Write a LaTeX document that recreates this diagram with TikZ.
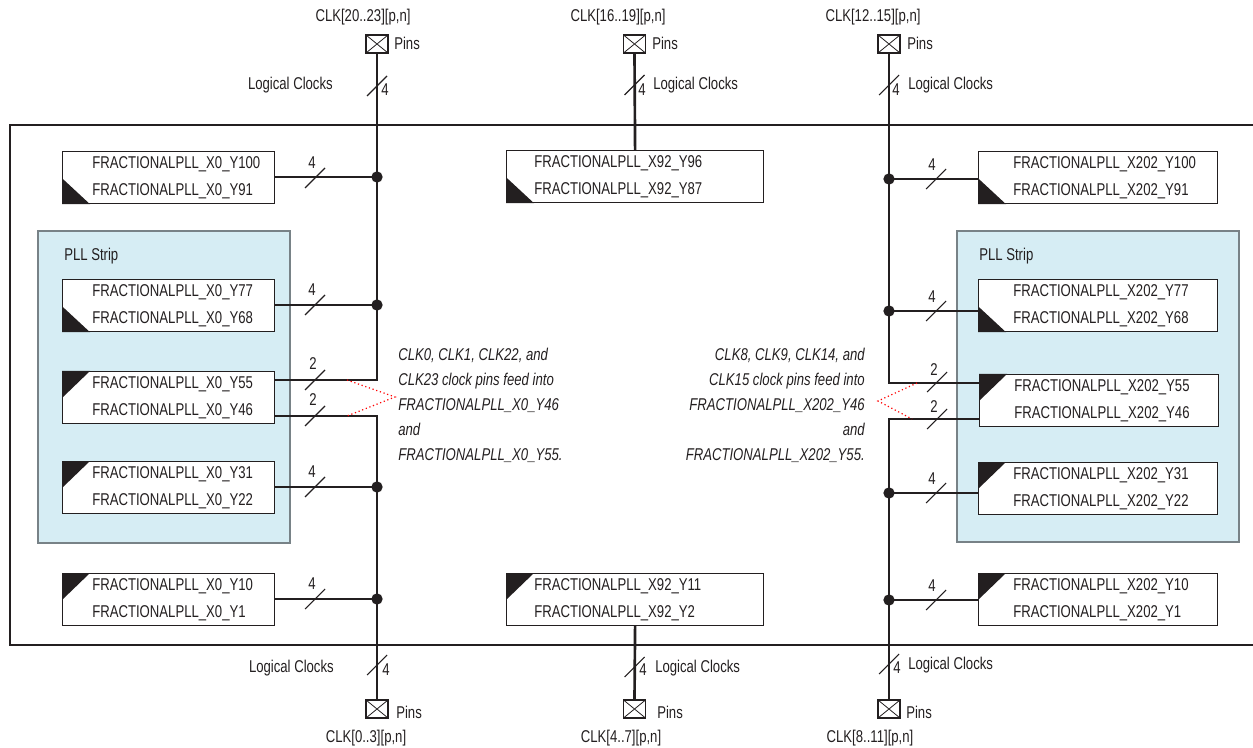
\documentclass[tikz,border=0pt]{standalone}
\usepackage{fontspec}
\setmainfont{Liberation Sans}[FakeStretch=0.77]
\definecolor{ink}{RGB}{35,31,32}
\definecolor{stripblue}{RGB}{214,237,244}
\definecolor{stripedge}{RGB}{120,130,135}
\newcommand\busslash[1]{\draw[slashst] (#1) ++(-10,10) -- ++(20,-20);}
\begin{document}
\begin{tikzpicture}[x=0.75pt,y=-0.75pt,
  txt/.style={font=\fontsize{12.8}{18.75}\selectfont, inner sep=0pt, text=ink},
  boxtxt/.style={font=\fontsize{12.8}{20.25}\selectfont, inner sep=0pt, text=ink, align=left, anchor=west},
  note/.style={font=\fontsize{12.8}{18.75}\selectfont\itshape, inner sep=0pt, text=ink},
  bus/.style={line width=2pt, draw=ink},
  frame/.style={line width=0.9pt, draw=ink},
  slashst/.style={line width=0.8pt, draw=ink},
  pllbox/.style={draw=ink, line width=0.9pt, fill=white, minimum height=39pt, inner sep=0pt, anchor=north west},
  strip/.style={draw=stripedge, fill=stripblue, line width=0.8pt},
  jdot/.style={circle, fill=ink, inner sep=0pt, minimum size=8.5pt},
  pin/.style={draw=ink, line width=0.8pt, fill=white, minimum width=16.5pt, minimum height=13.5pt, inner sep=0pt,
    path picture={\draw[ink, line width=0.6pt] (path picture bounding box.north west) -- (path picture bounding box.south east)
      (path picture bounding box.south west) -- (path picture bounding box.north east);}},
  reddot/.style={red, dotted, line width=0.9pt}
]
\useasboundingbox (0,0) rectangle (1253,748);

% outer frame
\draw[frame] (1253,125) -- (10,125) -- (10,645) -- (1253,645);

% PLL strips
\draw[strip] (38,231) rectangle (290,543);
\draw[strip] (957,231) rectangle (1239,542);
\node[txt, anchor=west] (stripL) at (64,256) {PLL Strip};
\node[txt, anchor=west] (stripR) at (979,256) {PLL Strip};

% ---------- boxes left ----------
\node[pllbox, minimum width=159pt] (bL1) at (62,151) {};
\node[pllbox, minimum width=159pt] (bL2) at (62,279) {};
\node[pllbox, minimum width=159pt] (bL3) at (62,371) {};
\node[pllbox, minimum width=159pt] (bL4) at (62,461) {};
\node[pllbox, minimum width=159pt] (bL5) at (62,573) {};
% center
\node[pllbox, minimum width=192.75pt] (bC1) at (506,150) {};
\node[pllbox, minimum width=192.75pt] (bC2) at (506,573) {};
% right
\node[pllbox, minimum width=179.25pt] (bR1) at (978,151) {};
\node[pllbox, minimum width=179.25pt] (bR2) at (978,279) {};
\node[pllbox, minimum width=179.25pt] (bR3) at (979,374) {};
\node[pllbox, minimum width=179.25pt] (bR4) at (978,462) {};
\node[pllbox, minimum width=179.25pt] (bR5) at (978,573) {};

% corner triangles
\foreach \b in {bL1,bL2,bC1,bR1,bR2}{
  \fill[ink] (\b.south west) -- ++(0,-26) -- ++(28,26) -- cycle;}
\foreach \b in {bL3,bL4,bL5,bC2,bR3,bR4,bR5}{
  \fill[ink] (\b.north west) -- ++(28,0) -- ++(-28,27) -- cycle;}

% box texts
\node[boxtxt] (tL1) at ([xshift=22.5pt]bL1.west) {FRACTIONALPLL\_X0\_Y100\\FRACTIONALPLL\_X0\_Y91};
\node[boxtxt] (tL2) at ([xshift=22.5pt]bL2.west) {FRACTIONALPLL\_X0\_Y77\\FRACTIONALPLL\_X0\_Y68};
\node[boxtxt] (tL3) at ([xshift=22.5pt]bL3.west) {FRACTIONALPLL\_X0\_Y55\\FRACTIONALPLL\_X0\_Y46};
\node[boxtxt] (tL4) at ([xshift=22.5pt]bL4.west) {FRACTIONALPLL\_X0\_Y31\\FRACTIONALPLL\_X0\_Y22};
\node[boxtxt] (tL5) at ([xshift=22.5pt]bL5.west) {FRACTIONALPLL\_X0\_Y10\\FRACTIONALPLL\_X0\_Y1};
\node[boxtxt] (tC1) at ([xshift=21pt]bC1.west) {FRACTIONALPLL\_X92\_Y96\\FRACTIONALPLL\_X92\_Y87};
\node[boxtxt] (tC2) at ([xshift=21pt]bC2.west) {FRACTIONALPLL\_X92\_Y11\\FRACTIONALPLL\_X92\_Y2};
\node[boxtxt] (tR1) at ([xshift=26.25pt]bR1.west) {FRACTIONALPLL\_X202\_Y100\\FRACTIONALPLL\_X202\_Y91};
\node[boxtxt] (tR2) at ([xshift=26.25pt]bR2.west) {FRACTIONALPLL\_X202\_Y77\\FRACTIONALPLL\_X202\_Y68};
\node[boxtxt] (tR3) at ([xshift=26.25pt]bR3.west) {FRACTIONALPLL\_X202\_Y55\\FRACTIONALPLL\_X202\_Y46};
\node[boxtxt] (tR4) at ([xshift=26.25pt]bR4.west) {FRACTIONALPLL\_X202\_Y31\\FRACTIONALPLL\_X202\_Y22};
\node[boxtxt] (tR5) at ([xshift=26.25pt]bR5.west) {FRACTIONALPLL\_X202\_Y10\\FRACTIONALPLL\_X202\_Y1};

% ---------- pins ----------
\node[pin] (pinTL) at (377,44) {};
\node[pin] (pinTC) at (634.5,44) {};
\node[pin] (pinTR) at (889,44) {};
\node[pin] (pinBL) at (377,709) {};
\node[pin] (pinBC) at (634.5,709) {};
\node[pin] (pinBR) at (889,709) {};

% pin labels
\node[txt] (clkTL) at (363,17) {CLK[20..23][p,n]};
\node[txt, anchor=west] (pnTL) at (394,43) {Pins};
\node[txt, anchor=east] (lcTL) at (333,85) {Logical Clocks};
\node[txt] (nTL) at (385,90) {4};

\node[txt] (clkTC) at (618,17) {CLK[16..19][p,n]};
\node[txt, anchor=west] (pnTC) at (652,43) {Pins};
\node[txt] (nTC) at (642,90) {4};
\node[txt, anchor=west] (lcTC) at (653,85) {Logical Clocks};

\node[txt] (clkTR) at (873,17) {CLK[12..15][p,n]};
\node[txt, anchor=west] (pnTR) at (907,43) {Pins};
\node[txt] (nTR) at (896,90) {4};
\node[txt, anchor=west] (lcTR) at (908,85) {Logical Clocks};

\node[txt, anchor=east] (lcBL) at (334,668) {Logical Clocks};
\node[txt] (nBL) at (386,670) {4};
\node[txt, anchor=west] (pnBL) at (396,712) {Pins};
\node[txt] (clkBL) at (366,738) {CLK[0..3][p,n]};

\node[txt] (nBC) at (643,670) {4};
\node[txt, anchor=west] (lcBC) at (655,668) {Logical Clocks};
\node[txt, anchor=west] (pnBC) at (657,712) {Pins};
\node[txt] (clkBC) at (621,738) {CLK[4..7][p,n]};

\node[txt] (nBR) at (897,668) {4};
\node[txt, anchor=west] (lcBR) at (908,665) {Logical Clocks};
\node[txt, anchor=west] (pnBR) at (906,712) {Pins};
\node[txt] (clkBR) at (870,738) {CLK[8..11][p,n]};

% ---------- junction coordinates ----------
\coordinate (jL1) at (377,177);
\coordinate (jL2) at (377,305);
\coordinate (cL3a) at (377,380);
\coordinate (cL3b) at (377,416);
\coordinate (jL4) at (377,487);
\coordinate (jL5) at (377,599);
\coordinate (jR1) at (889,179);
\coordinate (jR2) at (889,311);
\coordinate (cR3a) at (889,383);
\coordinate (cR3b) at (889,419);
\coordinate (jR4) at (889,493);
\coordinate (jR5) at (889,600);

% ---------- buses ----------
\draw[bus] (pinTL.south) -- (cL3a) -- (bL3.east |- cL3a);
\draw[bus] (bL3.east |- cL3b) -- (cL3b) -- (pinBL.north);
\draw[bus] (pinTR.south) -- (cR3a) -- (bR3.west |- cR3a);
\draw[bus] (bR3.west |- cR3b) -- (cR3b) -- (pinBR.north);
\draw[bus] (pinTC.south) -- (bC1.north);
\draw[bus] (bC2.south) -- (pinBC.north);

\foreach \b/\j in {bL1/jL1,bL2/jL2,bL4/jL4,bL5/jL5}{
  \draw[bus] (\b.east |- \j) -- (\j);
  \node[jdot] at (\j) {};}
\foreach \b/\j in {bR1/jR1,bR2/jR2,bR4/jR4,bR5/jR5}{
  \draw[bus] (\b.west |- \j) -- (\j);
  \node[jdot] at (\j) {};}

% ---------- bus-width marks ----------
\busslash{377,86}
\busslash{634.5,85}
\busslash{889,85}
\busslash{377,665}
\busslash{634.5,667}
\busslash{889,664}

\busslash{315,178}
\busslash{315,305}
\busslash{315,380}
\busslash{315,416}
\busslash{315,487}
\busslash{315,599}
\node[txt] (wL1) at (312,163) {4};
\node[txt] (wL2) at (312,290) {4};
\node[txt] (wL3) at (313,364) {2};
\node[txt] (wL4) at (313,400) {2};
\node[txt] (wL5) at (312,472) {4};
\node[txt] (wL6) at (312,584) {4};

\busslash{936,179}
\busslash{936,311}
\busslash{937,382}
\busslash{937,419}
\busslash{936,493}
\busslash{936,600}
\node[txt] (wR1) at (932,165) {4};
\node[txt] (wR2) at (932,297) {4};
\node[txt] (wR3) at (934,370) {2};
\node[txt] (wR4) at (934,407) {2};
\node[txt] (wR5) at (932,479) {4};
\node[txt] (wR6) at (932,586) {4};

% ---------- annotations ----------
\node[note, anchor=west, align=left] (noteL) at (398,405)
  {CLK0, CLK1, CLK22, and\\CLK23 clock pins feed into\\FRACTIONALPLL\_X0\_Y46\\and\\FRACTIONALPLL\_X0\_Y55.};
\node[note, anchor=east, align=right] (noteR) at (865,405)
  {CLK8, CLK9, CLK14, and\\CLK15 clock pins feed into\\FRACTIONALPLL\_X202\_Y46\\and\\FRACTIONALPLL\_X202\_Y55.};

\coordinate (rdL1) at (347,380);
\coordinate (rdL2) at (347,416);
\coordinate (apL) at (395,397);
\coordinate (rdR1) at (917,383);
\coordinate (rdR2) at (912,419);
\coordinate (apR) at (878,401);
\draw[reddot] (rdL1) -- (apL) -- (rdL2);
\draw[reddot] (rdR1) -- (apR) -- (rdR2);
\end{tikzpicture}
\end{document}
